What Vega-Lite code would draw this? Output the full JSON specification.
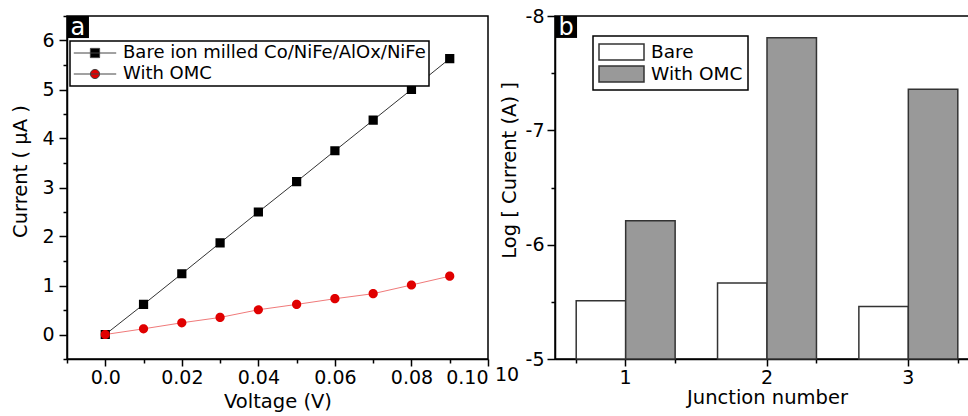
{
  "$schema": "https://vega.github.io/schema/vega-lite/v6.json",
  "background": "white",
  "padding": {"left": 10, "top": 6, "right": 0, "bottom": 0},
  "config": {
    "font": "DejaVu Sans",
    "view": {"stroke": "black", "strokeWidth": 1.5},
    "axis": {"domainColor": "black", "domainWidth": 1.5, "tickColor": "black", "tickWidth": 1.5, "labelColor": "black", "titleColor": "black", "labelFontSize": 19, "titleFontSize": 19.5, "titleFontWeight": "normal", "grid": false, "labelFont": "DejaVu Sans", "titleFont": "DejaVu Sans"},
    "legend": {"strokeWidth": 1.5, "labelFont": "DejaVu Sans", "labelColor": "black", "labelLimit": 0}
  },
  "bounds": "flush",
  "spacing": 67,
  "resolve": {
    "scale": {"color": "independent", "fill": "independent", "stroke": "independent", "shape": "independent"},
    "legend": {"color": "independent", "fill": "independent", "stroke": "independent", "shape": "independent"}
  },
  "hconcat": [
    {
      "width": 421,
      "height": 343,
      "data": {"values": [
        {"series": "Bare ion milled Co/NiFe/AlOx/NiFe", "voltage": 0.00, "current": 0.0},
        {"series": "Bare ion milled Co/NiFe/AlOx/NiFe", "voltage": 0.01, "current": 0.614},
        {"series": "Bare ion milled Co/NiFe/AlOx/NiFe", "voltage": 0.02, "current": 1.24},
        {"series": "Bare ion milled Co/NiFe/AlOx/NiFe", "voltage": 0.03, "current": 1.87},
        {"series": "Bare ion milled Co/NiFe/AlOx/NiFe", "voltage": 0.04, "current": 2.50},
        {"series": "Bare ion milled Co/NiFe/AlOx/NiFe", "voltage": 0.05, "current": 3.12},
        {"series": "Bare ion milled Co/NiFe/AlOx/NiFe", "voltage": 0.06, "current": 3.75},
        {"series": "Bare ion milled Co/NiFe/AlOx/NiFe", "voltage": 0.07, "current": 4.375},
        {"series": "Bare ion milled Co/NiFe/AlOx/NiFe", "voltage": 0.08, "current": 5.00},
        {"series": "Bare ion milled Co/NiFe/AlOx/NiFe", "voltage": 0.09, "current": 5.63},
        {"series": "With OMC", "voltage": 0.00, "current": 0.0},
        {"series": "With OMC", "voltage": 0.01, "current": 0.116},
        {"series": "With OMC", "voltage": 0.02, "current": 0.239},
        {"series": "With OMC", "voltage": 0.03, "current": 0.348},
        {"series": "With OMC", "voltage": 0.04, "current": 0.505},
        {"series": "With OMC", "voltage": 0.05, "current": 0.614},
        {"series": "With OMC", "voltage": 0.06, "current": 0.73},
        {"series": "With OMC", "voltage": 0.07, "current": 0.833},
        {"series": "With OMC", "voltage": 0.08, "current": 1.01},
        {"series": "With OMC", "voltage": 0.09, "current": 1.19}
      ]},
      "layer": [
        {
          "mark": {"type": "line", "strokeWidth": 1},
          "encoding": {
            "x": {"field": "voltage", "type": "quantitative", "scale": {"domain": [-0.01, 0.1], "nice": false, "zero": false},
              "axis": {"orient": "bottom", "title": "Voltage (V)", "values": [0, 0.02, 0.04, 0.06, 0.08, 0.1], "tickSize": 7, "labelPadding": 2, "titlePadding": 5, "labelExpr": "datum.value == 0 ? '0.0' : format(datum.value, '.2f')"}},
            "y": {"field": "current", "type": "quantitative", "scale": {"domain": [-0.5, 6.5], "nice": false, "zero": false},
              "axis": {"orient": "left", "title": "Current ( µA )", "values": [0, 1, 2, 3, 4, 5, 6], "tickSize": 8, "labelPadding": 5, "titlePadding": 11, "titleY": 155}},
            "stroke": {"field": "series", "type": "nominal", "scale": {"range": ["#333333", "#f07a7a"]}, "legend": null}
          }
        },
        {
          "mark": {"type": "point", "filled": true, "size": 85, "opacity": 1, "strokeWidth": 0},
          "encoding": {
            "x": {"field": "voltage", "type": "quantitative",
              "axis": {"orient": "bottom", "values": [-0.01, 0.01, 0.03, 0.05, 0.07, 0.09], "tickSize": 4, "labels": false, "domain": false, "title": null}},
            "y": {"field": "current", "type": "quantitative",
              "axis": {"orient": "left", "values": [-0.5, 0.5, 1.5, 2.5, 3.5, 4.5, 5.5, 6.5], "tickSize": 4, "labels": false, "domain": false, "title": null}},
            "color": {"field": "series", "type": "nominal", "scale": {"domain": ["Bare ion milled Co/NiFe/AlOx/NiFe", "With OMC"], "range": ["#000000", "#e00000"]},
              "legend": {"title": null, "orient": "none", "legendX": 3, "legendY": 25, "strokeColor": "black", "fillColor": "white", "padding": 3, "symbolSize": 85, "symbolOffset": 13, "labelOffset": 19, "labelFontSize": 18, "rowPadding": 3, "labelLimit": 0, "symbolStrokeWidth": 1, "symbolStrokeColor": "#444444",
                "encode": {"symbols": {"stroke": {"value": {"expr": "datum.value == 'With OMC' ? '#f07a7a' : '#444444'"}}, "strokeWidth": {"value": 1}}}}},
            "shape": {"field": "series", "type": "nominal", "scale": {"domain": ["Bare ion milled Co/NiFe/AlOx/NiFe", "With OMC"], "range": ["M-4.6,0H4.6M-1,-1H1V1H-1Z", "M-4.6,0H4.6M1,0A1,1 0 1 1 -1,0A1,1 0 1 1 1,0Z"]},
              "legend": {"title": null, "orient": "none", "legendX": 3, "legendY": 25, "strokeColor": "black", "fillColor": "white", "padding": 3, "symbolSize": 85, "symbolOffset": 13, "labelOffset": 19, "labelFontSize": 18, "rowPadding": 3, "labelLimit": 0, "symbolStrokeWidth": 1, "symbolStrokeColor": "#444444",
                "encode": {"symbols": {"stroke": {"value": {"expr": "datum.value == 'With OMC' ? '#f07a7a' : '#444444'"}}, "strokeWidth": {"value": 1}}}}}
          }
        },
        {
          "data": {"values": [{}]},
          "mark": {"type": "rect", "color": "black"},
          "encoding": {
            "x": {"datum": -0.01, "type": "quantitative", "axis": null},
            "x2": {"datum": -0.00426},
            "y": {"datum": 6.5, "type": "quantitative", "axis": null},
            "y2": {"datum": 6.05}
          }
        },
        {
          "data": {"values": [{}]},
          "mark": {"type": "text", "color": "white", "fontSize": 24, "font": "DejaVu Sans", "align": "center", "baseline": "middle"},
          "encoding": {
            "x": {"datum": -0.00713, "type": "quantitative", "axis": null},
            "y": {"datum": 6.26, "type": "quantitative", "axis": null},
            "text": {"value": "a"}
          }
        }
      ],
      "resolve": {"axis": {"x": "independent", "y": "independent"}}
    },
    {
      "width": 424,
      "height": 343,
      "layer": [
        {
          "data": {"values": [
            {"junction": 1, "series": "Bare", "logCurrent": -5.51},
            {"junction": 1, "series": "With OMC", "logCurrent": -6.21},
            {"junction": 2, "series": "Bare", "logCurrent": -5.665},
            {"junction": 2, "series": "With OMC", "logCurrent": -7.81},
            {"junction": 3, "series": "Bare", "logCurrent": -5.46},
            {"junction": 3, "series": "With OMC", "logCurrent": -7.36}
          ]},
          "layer": [
            {
              "mark": {"type": "bar", "stroke": "#333333", "strokeWidth": 1.5},
              "encoding": {
                "x": {"field": "junction", "type": "nominal", "scale": {"paddingInner": 0.3, "paddingOuter": 0.15},
                  "axis": {"orient": "bottom", "title": "Junction number", "labelAngle": 0, "tickSize": 7, "labelPadding": 2, "titlePadding": 1}},
                "xOffset": {"field": "series", "type": "nominal", "scale": {"domain": ["Bare", "With OMC"], "paddingInner": 0, "paddingOuter": 0}},
                "y": {"field": "logCurrent", "type": "quantitative", "scale": {"domain": [-8, -5], "reverse": true, "nice": false, "zero": false},
                  "axis": {"orient": "left", "title": "Log [ Current (A) ]", "values": [-8, -7, -6, -5], "tickSize": 8, "labelPadding": 3, "titlePadding": 6, "titleY": 154, "labelExpr": "toString(datum.value)"}},
                "y2": {"datum": -5},
                "fill": {"field": "series", "type": "nominal", "scale": {"domain": ["Bare", "With OMC"], "range": ["#ffffff", "#999999"]},
                  "legend": {"title": null, "orient": "none", "legendX": 38, "legendY": 20, "strokeColor": "black", "fillColor": "white", "padding": 5, "symbolSize": 2025, "clipHeight": 22, "symbolType": "M-1,-0.36H1V0.36H-1Z", "labelFontSize": 18.5, "labelOffset": 6, "rowPadding": 0,
                    "encode": {"symbols": {
                      "stroke": {"value": "#333333"},
                      "strokeWidth": {"value": 1.5},
                      "opacity": {"value": 1}
                    }}}}
              }
            },
            {
              "mark": {"type": "tick", "opacity": 0},
              "encoding": {
                "x": {"field": "junction", "type": "nominal",
                  "axis": {"orient": "bottom", "tickBand": "extent", "tickSize": 4, "labels": false, "domain": false, "title": null}},
                "y": {"field": "logCurrent", "type": "quantitative",
                  "axis": {"orient": "left", "values": [-7.5, -6.5, -5.5], "tickSize": 4, "labels": false, "domain": false, "title": null}}
              }
            }
          ],
          "resolve": {"axis": {"x": "independent", "y": "independent"}}
        },
        {
          "data": {"values": [{}]},
          "layer": [
            {
              "mark": {"type": "rect", "color": "black"},
              "encoding": {
                "x": {"datum": 0, "type": "quantitative", "scale": {"domain": [0, 1], "nice": false}, "axis": null},
                "x2": {"datum": 0.052},
                "y": {"datum": 1, "type": "quantitative", "scale": {"domain": [0, 1], "nice": false}, "axis": null},
                "y2": {"datum": 0.936}
              }
            },
            {
              "mark": {"type": "text", "color": "white", "fontSize": 24, "font": "DejaVu Sans", "align": "center", "baseline": "middle"},
              "encoding": {
                "x": {"datum": 0.026, "type": "quantitative", "axis": null},
                "y": {"datum": 0.966, "type": "quantitative", "axis": null},
                "text": {"value": "b"}
              }
            },
            {
              "mark": {"type": "text", "color": "black", "fontSize": 19, "font": "DejaVu Sans", "align": "center", "baseline": "middle"},
              "encoding": {
                "x": {"datum": -0.113, "type": "quantitative", "axis": null},
                "y": {"datum": -0.047, "type": "quantitative", "axis": null},
                "text": {"value": "10"}
              }
            }
          ]
        }
      ],
      "resolve": {"scale": {"x": "independent", "y": "independent"}}
    }
  ]
}
